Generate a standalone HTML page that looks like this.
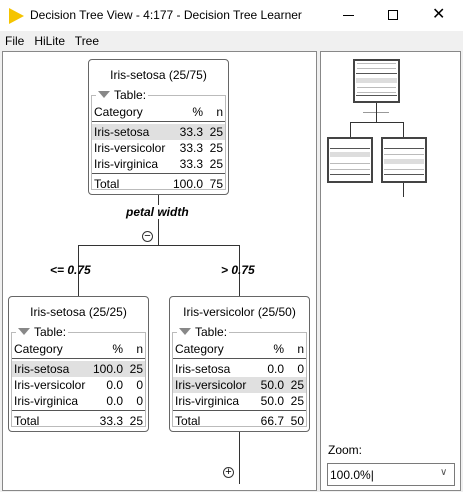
<!DOCTYPE html>
<html><head><meta charset="utf-8"><style>
*{margin:0;padding:0;box-sizing:border-box}
body{width:463px;height:492px;background:#f0f0f0;font-family:"Liberation Sans",sans-serif;font-size:12px;color:#000;position:relative;overflow:hidden}
.a{position:absolute}
.node{position:absolute;width:141px;height:136px;background:#fff;border:1px solid #666;border-radius:4px}
.node .t{position:absolute;left:0;right:0;top:8px;text-align:center}
.fs{position:absolute;left:2px;right:2px;top:35px;bottom:4px;border:1px solid #bbb}
.lg{position:absolute;left:4px;top:-8px;background:#fff;padding:0 2px;font-size:12px}
.tri{display:inline-block;width:0;height:0;border-left:6px solid transparent;border-right:6px solid transparent;border-top:7px solid #888;margin-right:4px;vertical-align:1px}
.row{position:absolute;left:3px;right:3px;height:16px;line-height:16px}
.row span{position:absolute}
.c1{left:2px}.c2{right:22px}.c3{right:2px}
.hl{background:#e0e0e0}
.ln{position:absolute;left:3px;right:3px;height:1px;background:#555}
.v{position:absolute;width:1px;background:#333}
.h{position:absolute;height:1px;background:#333}
.circ{position:absolute;width:11px;height:11px;border:1px solid #333;border-radius:50%;background:#fff;font-size:11px;line-height:9px;text-align:center}
.lbl{position:absolute;font-weight:bold;font-style:italic;font-size:12px}
.mini{position:absolute;background:#fff;border:2px solid #444}
.ml{position:absolute;height:1px;background:#bbb}
</style></head><body>
<div class="a" style="left:0;top:0;width:463px;height:31px;background:#fff"></div>
<div class="a" style="left:9px;top:8px;width:0;height:0;border-top:8px solid transparent;border-bottom:8px solid transparent;border-left:15px solid #f5c400"></div>
<div class="a" style="left:30px;top:8px;font-size:12px">Decision Tree View - 4:177 - Decision Tree Learner</div>
<div class="a" style="left:343px;top:15px;width:11px;height:1px;background:#000"></div>
<div class="a" style="left:388px;top:10px;width:10px;height:10px;border:1px solid #000"></div>
<div class="a" style="left:432px;top:4px;font-size:16px">✕</div>
<div class="a" style="left:5px;top:34px">File&nbsp;&nbsp; HiLite&nbsp;&nbsp; Tree</div>
<div class="a" style="left:2px;top:51px;width:315px;height:440px;background:#fff;border:1px solid #888"></div>
<div class="a" style="left:320px;top:51px;width:141px;height:440px;background:#fff;border:1px solid #888"></div>

<!-- root -->
<div class="node" style="left:88px;top:59px">
 <div class="t">Iris-setosa (25/75)</div>
 <div class="fs"><div class="lg"><span class="tri"></span>Table:</div></div>
 <div class="row" style="top:44px"><span class="c1">Category</span><span class="c2">%</span><span class="c3">n</span></div>
 <div class="ln" style="top:61px"></div>
 <div class="row hl" style="top:64px"><span class="c1">Iris-setosa</span><span class="c2">33.3</span><span class="c3">25</span></div>
 <div class="row" style="top:80px"><span class="c1">Iris-versicolor</span><span class="c2">33.3</span><span class="c3">25</span></div>
 <div class="row" style="top:96px"><span class="c1">Iris-virginica</span><span class="c2">33.3</span><span class="c3">25</span></div>
 <div class="ln" style="top:113px"></div>
 <div class="row" style="top:116px"><span class="c1">Total</span><span class="c2">100.0</span><span class="c3">75</span></div>
</div>
<div class="v" style="left:158px;top:195px;height:50px"></div>
<div class="lbl" style="left:126px;top:205px;background:#fff">petal width</div>
<div class="circ" style="left:142px;top:231px">−</div>
<div class="h" style="left:78px;top:245px;width:162px"></div>
<div class="v" style="left:78px;top:245px;height:51px"></div>
<div class="v" style="left:239px;top:245px;height:51px"></div>
<div class="lbl" style="left:50px;top:263px">&lt;= 0.75</div>
<div class="lbl" style="left:221px;top:263px">&gt; 0.75</div>

<div class="node" style="left:8px;top:296px">
 <div class="t">Iris-setosa (25/25)</div>
 <div class="fs"><div class="lg"><span class="tri"></span>Table:</div></div>
 <div class="row" style="top:44px"><span class="c1">Category</span><span class="c2">%</span><span class="c3">n</span></div>
 <div class="ln" style="top:61px"></div>
 <div class="row hl" style="top:64px"><span class="c1">Iris-setosa</span><span class="c2">100.0</span><span class="c3">25</span></div>
 <div class="row" style="top:80px"><span class="c1">Iris-versicolor</span><span class="c2">0.0</span><span class="c3">0</span></div>
 <div class="row" style="top:96px"><span class="c1">Iris-virginica</span><span class="c2">0.0</span><span class="c3">0</span></div>
 <div class="ln" style="top:113px"></div>
 <div class="row" style="top:116px"><span class="c1">Total</span><span class="c2">33.3</span><span class="c3">25</span></div>
</div>
<div class="node" style="left:169px;top:296px">
 <div class="t">Iris-versicolor (25/50)</div>
 <div class="fs"><div class="lg"><span class="tri"></span>Table:</div></div>
 <div class="row" style="top:44px"><span class="c1">Category</span><span class="c2">%</span><span class="c3">n</span></div>
 <div class="ln" style="top:61px"></div>
 <div class="row" style="top:64px"><span class="c1">Iris-setosa</span><span class="c2">0.0</span><span class="c3">0</span></div>
 <div class="row hl" style="top:80px"><span class="c1">Iris-versicolor</span><span class="c2">50.0</span><span class="c3">25</span></div>
 <div class="row" style="top:96px"><span class="c1">Iris-virginica</span><span class="c2">50.0</span><span class="c3">25</span></div>
 <div class="ln" style="top:113px"></div>
 <div class="row" style="top:116px"><span class="c1">Total</span><span class="c2">66.7</span><span class="c3">50</span></div>
</div>
<div class="v" style="left:239px;top:432px;height:52px"></div>
<div class="circ" style="left:223px;top:467px">+</div>

<!-- overview -->
<div class="mini" style="left:353px;top:59px;width:47px;height:44px"></div>
<div class="ml" style="left:357px;top:63px;width:39px"></div>
<div class="ml" style="left:357px;top:68px;width:39px"></div>
<div class="a" style="left:356px;top:78px;width:41px;height:5px;background:#ddd"></div>
<div class="a" style="left:356px;top:73px;width:41px;height:1px;background:#555"></div>
<div class="ml" style="left:357px;top:87px;width:39px"></div>
<div class="ml" style="left:357px;top:92px;width:39px"></div>
<div class="a" style="left:356px;top:95px;width:41px;height:1px;background:#555"></div>
<div class="ml" style="left:363px;top:112px;width:26px;background:#999"></div>
<div class="v" style="left:376px;top:103px;height:20px"></div>
<div class="h" style="left:350px;top:122px;width:54px"></div>
<div class="v" style="left:350px;top:122px;height:15px"></div>
<div class="v" style="left:403px;top:122px;height:15px"></div>
<div class="mini" style="left:327px;top:137px;width:46px;height:46px"></div>
<div class="a" style="left:330px;top:148px;width:40px;height:1px;background:#555"></div>
<div class="a" style="left:330px;top:152px;width:40px;height:5px;background:#ddd"></div>
<div class="ml" style="left:330px;top:163px;width:40px"></div>
<div class="ml" style="left:330px;top:169px;width:40px"></div>
<div class="a" style="left:330px;top:174px;width:40px;height:1px;background:#555"></div>
<div class="mini" style="left:381px;top:137px;width:46px;height:46px"></div>
<div class="a" style="left:384px;top:148px;width:40px;height:1px;background:#555"></div>
<div class="ml" style="left:384px;top:154px;width:40px"></div>
<div class="a" style="left:384px;top:159px;width:40px;height:5px;background:#ddd"></div>
<div class="ml" style="left:384px;top:169px;width:40px"></div>
<div class="a" style="left:384px;top:174px;width:40px;height:1px;background:#555"></div>
<div class="v" style="left:403px;top:183px;height:14px"></div>

<div class="a" style="left:328px;top:443px">Zoom:</div>
<div class="a" style="left:327px;top:463px;width:128px;height:23px;border:1px solid #7a7a7a;background:#fff"></div>
<div class="a" style="left:330px;top:468px">100.0%|</div>
<div class="a" style="left:440px;top:467px;color:#555;font-size:10px">&#8744;</div>
</body></html>
